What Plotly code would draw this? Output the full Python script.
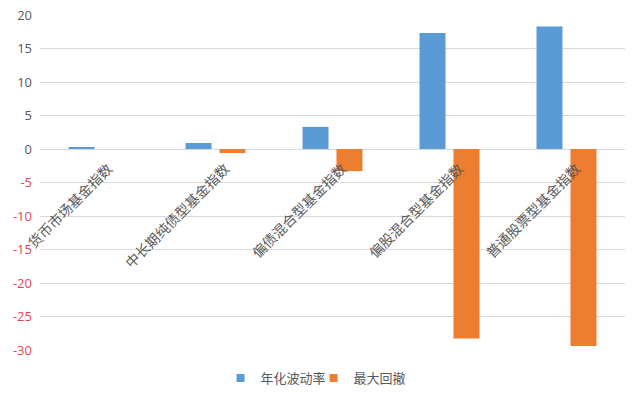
import plotly.graph_objects as go

categories = ["货币市场基金指数", "中长期纯债型基金指数", "偏债混合型基金指数", "偏股混合型基金指数", "普通股票型基金指数"]
volatility = [0.2, 0.9, 3.3, 17.3, 18.3]
drawdown = [0.0, -0.6, -3.3, -28.3, -29.4]
series_names = ["年化波动率", "最大回撤"]
tick_vals = [20, 15, 10, 5, 0, -5, -10, -15, -20, -25, -30]

BLUE = "#5B9BD5"
ORANGE = "#ED7D31"
POS = "#595959"
NEG = "#E0484B"

ticktext = [
    f'<span style="color:{POS if v >= 0 else NEG}">{v}</span>' for v in tick_vals
]

fig = go.Figure()
fig.add_trace(go.Bar(x=categories, y=volatility, name=series_names[0],
                     marker=dict(color=BLUE, line=dict(width=0)), showlegend=False))
fig.add_trace(go.Bar(x=categories, y=drawdown, name=series_names[1],
                     marker=dict(color=ORANGE, line=dict(width=0)), showlegend=False))
# legend entries with small square markers
fig.add_trace(go.Scatter(x=[None], y=[None], mode="markers", name=series_names[0],
                         marker=dict(symbol="square", size=8, color=BLUE)))
fig.add_trace(go.Scatter(x=[None], y=[None], mode="markers", name=series_names[1],
                         marker=dict(symbol="square", size=8, color=ORANGE)))

for c in categories:
    fig.add_annotation(x=c, y=0, xref="x", yref="y", text=c, showarrow=False,
                       textangle=-45, xanchor="right", yanchor="top",
                       xshift=21, yshift=-7,
                       font=dict(family="Noto Sans CJK SC", size=14, color="#595959"))

fig.update_layout(
    width=640, height=401,
    margin=dict(l=40, r=15, t=15, b=51, autoexpand=False),
    paper_bgcolor="white", plot_bgcolor="white",
    barmode="group", bargap=0.419, bargroupgap=0.235,
    font=dict(family="Noto Sans CJK SC", size=13, color="#595959"),
    legend=dict(orientation="h", xref="container", x=0.49, xanchor="center",
                yref="container", y=0.02, yanchor="bottom",
                font=dict(family="Noto Sans CJK SC", size=13, color="#595959"),
                itemwidth=30, entrywidth=48, entrywidthmode="pixels"),
    xaxis=dict(showticklabels=False, showgrid=False, zeroline=False, showline=False,
               ticks="", range=[-0.5, 4.5]),
    yaxis=dict(range=[-30, 20], tickvals=tick_vals, ticktext=ticktext,
               showgrid=True, gridcolor="#D9D9D9", gridwidth=1,
               zeroline=True, zerolinecolor="#D9D9D9", zerolinewidth=1,
               showline=False, ticks="", ticklabelstandoff=7,
               tickfont=dict(family="Open Sans", size=13, color=POS)),
)

fig.write_html("out.html")
